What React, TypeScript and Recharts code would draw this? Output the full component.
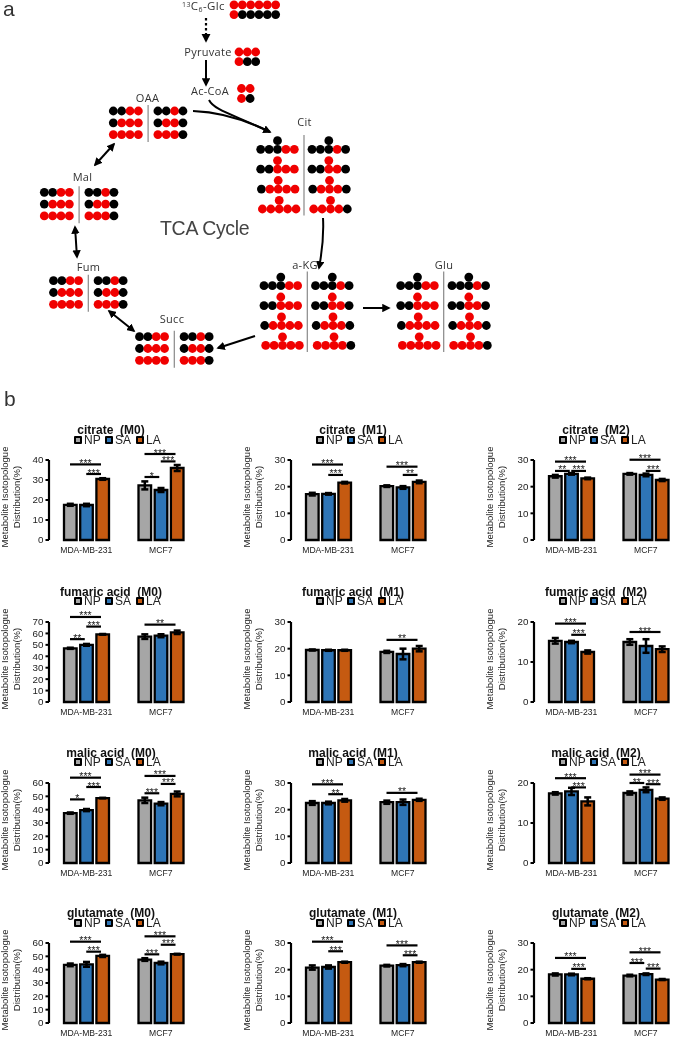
import React from 'react'
import { BarChart, Bar, XAxis, YAxis, ErrorBar, ReferenceLine, Legend } from 'recharts'

const cells = ['MDA-MB-231', 'MCF7']
const groups = ['NP', 'SA', 'LA']
const groupColors = ['#a6a6a6', '#2e75b6', '#c55a11']

const panelTitles = [
  'citrate  (M0)', 'citrate  (M1)', 'citrate  (M2)',
  'fumaric acid  (M0)', 'fumaric acid  (M1)', 'fumaric acid  (M2)',
  'malic acid  (M0)', 'malic acid  (M1)', 'malic acid  (M2)',
  'glutamate  (M0)', 'glutamate  (M1)', 'glutamate  (M2)',
]
const panelMax = [40, 30, 30, 70, 30, 20, 60, 30, 20, 60, 30, 30]

// per panel: [MDA-MB-231, MCF7]
const npValues = [[17.6, 27.3], [17.2, 20.2], [23.9, 24.8], [47, 57.2], [19.5, 18.8], [15.3, 15], [37.4, 47], [22.5, 22.8], [17.4, 17.5], [43.6, 47.6], [20.8, 21.5], [18.2, 17.8]]
const saValues = [[17.5, 25], [17.3, 19.7], [24.8, 24.4], [50, 58], [19.4, 18], [15, 14], [39.7, 44.5], [22.5, 22.8], [17.9, 18.3], [44, 45], [21, 21.7], [18.2, 18.3]]
const laValues = [[30.5, 36], [21.5, 21.8], [23.1, 22.5], [59.2, 61], [19.4, 20], [12.5, 13.2], [48.7, 51.8], [23.5, 23.7], [15.4, 16.1], [50.3, 51.6], [22.8, 22.8], [16.6, 16.3]]
const npErrors = [[0.5, 2], [0.5, 0.3], [0.5, 0.3], [0.5, 2], [0.2, 0.4], [0.7, 0.7], [0.5, 2], [0.7, 0.6], [0.3, 0.4], [1, 1], [0.8, 0.3], [0.4, 0.3]]
const saErrors = [[0.6, 1], [0.3, 0.5], [0.3, 0.5], [0.8, 1.3], [0.2, 2], [0.3, 1.7], [0.8, 1.2], [0.5, 1], [0.9, 0.6], [1.8, 1], [0.6, 0.4], [0.3, 0.3]]
const laErrors = [[0.4, 1.5], [0.3, 0.5], [0.3, 0.4], [0.3, 1.5], [0.2, 1], [0.4, 0.7], [0.2, 1.8], [0.5, 0.4], [1, 0.3], [0.8, 0.3], [0.2, 0.2], [0.2, 0.2]]

// significance bars per panel: [cell, from group, to group, value, stars]
const sigBars: [number, number, number, number, string][][] = [
  [[0, 0, 2, 37.8, '***'], [0, 1, 2, 33, '***'], [1, 0, 2, 43, '***'], [1, 1, 2, 39.3, '***'], [1, 0, 1, 31.5, '*']],
  [[0, 0, 2, 28.3, '***'], [0, 1, 2, 24.4, '***'], [1, 0, 2, 27.5, '***'], [1, 1, 2, 24.4, '**']],
  [[0, 0, 2, 29.4, '***'], [0, 0, 1, 25.9, '**'], [0, 1, 2, 25.9, '***'], [1, 0, 2, 30.1, '***'], [1, 1, 2, 25.9, '***']],
  [[0, 0, 2, 74.4, '***'], [0, 1, 2, 66, '***'], [0, 0, 1, 55, '**'], [1, 0, 2, 67.7, '**']],
  [[1, 0, 2, 23.3, '**']],
  [[0, 0, 2, 19.6, '***'], [0, 1, 2, 16.8, '***'], [1, 0, 2, 17.5, '***']],
  [[0, 0, 2, 64, '***'], [0, 1, 2, 57, '***'], [0, 0, 1, 47.7, '*'], [1, 0, 2, 65.3, '***'], [1, 1, 2, 59.3, '***'], [1, 0, 1, 52.3, '***']],
  [[0, 0, 2, 29.5, '***'], [0, 1, 2, 25.8, '**'], [1, 0, 2, 26.3, '**']],
  [[0, 0, 2, 21.2, '***'], [0, 1, 2, 18.9, '***'], [1, 0, 2, 22.1, '***'], [1, 0, 1, 20, '**'], [1, 1, 2, 19.7, '***']],
  [[0, 0, 2, 61, '***'], [0, 1, 2, 53.5, '***'], [1, 0, 2, 65, '***'], [1, 1, 2, 58.7, '***'], [1, 0, 1, 51.5, '***']],
  [[0, 0, 2, 30.5, '***'], [0, 1, 2, 26.9, '***'], [1, 0, 2, 29.1, '***'], [1, 1, 2, 25.4, '***']],
  [[0, 0, 2, 24.4, '***'], [0, 1, 2, 20.3, '***'], [1, 0, 2, 26.5, '***'], [1, 0, 1, 22.5, '***'], [1, 1, 2, 20.4, '***']],
]

// labelling patterns, K = 12C (black), R = 13C (red)
const oaaLeft = ['KKRR', 'KRRR', 'RRRR']
const oaaRight = ['KKRK', 'KRRK', 'RRRK']
const citLeft = ['KKKKRR', 'RKKRRR', 'RKRRRR', 'RRRRRR']
const citRight = ['KKKKRK', 'RKKRRK', 'RKRRRK', 'RRRRRK']

const FONT = '"Liberation Sans", Arial, sans-serif'
const DIAGRAM_FONT = '"Open Sans", sans-serif'
const COL_X = [49, 291, 534]
const ROW_TOP = [460, 621.5, 782.5, 943]
const PLOT_W = 149
const PLOT_H = 80
const LEGEND_H = 27
const AXIS_W = 35

const RED = '#f00000'
const dotColor = (c: string) => (c === 'R' ? RED : '#000')

function Dots({ x, y, rows, dx = 8.35, dy = 11.8 }: { x: number; y: number; rows: string[]; dx?: number; dy?: number }) {
  return (
    <g>
      {rows.map((row, r) =>
        row.split('').map((c, i) => (
          <circle key={r + '-' + i} cx={x + i * dx} cy={y + r * dy} r={4.4} fill={dotColor(c)} />
        )),
      )}
    </g>
  )
}

function Block({ x, y, sepH = 37 }: { x: number; y: number; sepH?: number }) {
  return (
    <g>
      <Dots x={x} y={y} rows={oaaLeft} />
      <Dots x={x + 44.6} y={y} rows={oaaRight} />
      <line x1={x + 34.8} x2={x + 34.8} y1={y - 6} y2={y - 6 + sepH} stroke="#888" strokeWidth={1.2} />
    </g>
  )
}

function BranchRows({ x, y, rows }: { x: number; y: number; rows: string[] }) {
  // first letter of a row is the carbon branching off above the third one
  const rowGap = 19.9
  const shift = [0, 0, 0.7, 1.7]
  return (
    <g>
      {rows.map((row, r) => (
        <g key={r}>
          <circle cx={x + shift[r] + 2 * 8.4} cy={y + r * rowGap - 8.6} r={4.4} fill={dotColor(row[0])} />
          {row.slice(1).split('').map((c, i) => (
            <circle key={i} cx={x + shift[r] + i * 8.4} cy={y + r * rowGap} r={4.4} fill={dotColor(c)} />
          ))}
        </g>
      ))}
    </g>
  )
}

function TallBlock({ x, y, rightDx, sepDx, sepTop }: { x: number; y: number; rightDx: number; sepDx: number; sepTop: number }) {
  return (
    <g>
      <BranchRows x={x} y={y} rows={citLeft} />
      <BranchRows x={x + rightDx} y={y} rows={citRight} />
      <line x1={x + sepDx} x2={x + sepDx} y1={sepTop} y2={sepTop + 80.5} stroke="#888" strokeWidth={1.2} />
    </g>
  )
}

function DiagramLabel({ x, y, children, anchor = 'middle' }: { x: number; y: number; children: React.ReactNode; anchor?: string }) {
  return (
    <text x={x} y={y} fontSize={11} fill="#333" textAnchor={anchor as 'middle'} fontFamily={DIAGRAM_FONT} letterSpacing={0.3}>
      {children}
    </text>
  )
}

function Diagram() {
  const arrow = { fill: 'none', stroke: '#000', strokeWidth: 2 }
  return (
    <svg width={685} height={420} style={{ position: 'absolute', left: 0, top: 0 }}>
      <defs>
        <marker id="head" viewBox="0 0 10 10" refX={8} refY={5} markerWidth={4.2} markerHeight={4.2} orient="auto-start-reverse">
          <path d="M0 0 L10 5 L0 10 Z" fill="#000" />
        </marker>
      </defs>
      <text x={3} y={16} fontSize={21} fill="#333" fontFamily={FONT}>a</text>
      <text x={4} y={406} fontSize={21} fill="#333" fontFamily={FONT}>b</text>

      <Dots x={234} y={4.8} rows={['RRRRRR', 'RKKKKK']} dx={8.33} dy={9.8} />
      <Dots x={239} y={52} rows={['RRR', 'RKK']} dx={8.33} dy={9.7} />
      <Dots x={241.5} y={88.5} rows={['RR', 'RK']} dx={8.6} dy={10} />

      <text x={182} y={10} fontSize={11.5} letterSpacing={0.4} fill="#333" fontFamily={DIAGRAM_FONT}>
        <tspan fontSize={7} dy={-3}>13</tspan><tspan dy={3}>C</tspan><tspan fontSize={7} dy={2}>6</tspan><tspan dy={-2}>-Glc</tspan>
      </text>
      <DiagramLabel x={208} y={56}>Pyruvate</DiagramLabel>
      <DiagramLabel x={210} y={95}>Ac-CoA</DiagramLabel>
      <DiagramLabel x={147.5} y={102}>OAA</DiagramLabel>
      <DiagramLabel x={304.5} y={126}>Cit</DiagramLabel>
      <DiagramLabel x={82.5} y={181}>Mal</DiagramLabel>
      <DiagramLabel x={88.5} y={271}>Fum</DiagramLabel>
      <DiagramLabel x={172} y={323}>Succ</DiagramLabel>
      <DiagramLabel x={305} y={269}>a-KG</DiagramLabel>
      <DiagramLabel x={444} y={269}>Glu</DiagramLabel>
      <text x={160} y={235} fontSize={19.5} letterSpacing={-0.3} fill="#444" fontFamily={FONT}>TCA Cycle</text>

      <Block x={113.3} y={111} />
      <Block x={44.3} y={192.3} />
      <Block x={53.5} y={280.7} />
      <Block x={139.5} y={336.7} />
      <TallBlock x={260.7} y={149.3} rightDx={51.3} sepDx={43.3} sepTop={135} />
      <TallBlock x={264} y={285.7} rightDx={51.5} sepDx={43.3} sepTop={271.5} />
      <TallBlock x={400.7} y={285.7} rightDx={51.3} sepDx={43} sepTop={271.5} />

      <path d="M206 18 L206 41" {...arrow} strokeWidth={2.2} strokeDasharray="2.5 2.5" markerEnd="url(#head)" />
      <path d="M206 60 L206 85" {...arrow} markerEnd="url(#head)" />
      <path d="M209 100 C214 110 232 114 270 132" {...arrow} markerEnd="url(#head)" />
      <path d="M193 111 C222 112 246 120 270 132" {...arrow} />
      <path d="M114 144 L95 165" {...arrow} markerStart="url(#head)" markerEnd="url(#head)" />
      <path d="M75 227 L77 257" {...arrow} markerStart="url(#head)" markerEnd="url(#head)" />
      <path d="M109 311 L134 331" {...arrow} markerStart="url(#head)" markerEnd="url(#head)" />
      <path d="M255 336 L218 348" {...arrow} markerEnd="url(#head)" />
      <path d="M323 218 C324 236 322 252 319 268" {...arrow} markerEnd="url(#head)" />
      <path d="M363 308 L389 308" {...arrow} markerEnd="url(#head)" />
    </svg>
  )
}

function PanelLegend() {
  return (
    <div style={{ position: 'relative', height: LEGEND_H, fontFamily: FONT, fontSize: 12, color: '#222' }}>
      {groups.map((g, i) => (
        <div key={g} style={{ position: 'absolute', left: AXIS_W + 25 + i * 31, top: 0, display: 'flex', alignItems: 'center', height: 13 }}>
          <span style={{ width: 4, height: 4, border: '2px solid #000', borderRadius: 1, background: groupColors[i], marginRight: 2 }} />
          <span>{g}</span>
        </div>
      ))}
    </div>
  )
}

function Panel({ index }: { index: number }) {
  const row = Math.floor(index / 3)
  const left = COL_X[index % 3] - AXIS_W
  const top = ROW_TOP[row] - LEGEND_H
  const max = panelMax[index]
  const ticks: number[] = []
  for (let t = 0; t <= max; t += 10) ticks.push(t)
  const data = cells.map((name, c) => ({
    name,
    NP: npValues[index][c],
    SA: saValues[index][c],
    LA: laValues[index][c],
    NPerr: npErrors[index][c],
    SAerr: saErrors[index][c],
    LAerr: laErrors[index][c],
  }))
  // the number axis runs 0..1 over the whole plot, half of it per cell
  const barX = (cell: number, g: number) => (cell + 0.5 + (g - 1) * 0.218) / 2
  return (
    <div style={{ position: 'absolute', left, top, width: AXIS_W + PLOT_W + 8, height: LEGEND_H + PLOT_H + 22 }}>
      <div style={{ position: 'absolute', left: AXIS_W, width: 124, top: -9, textAlign: 'center', fontFamily: FONT, fontWeight: 700, fontSize: 12, lineHeight: '13px', color: '#111', whiteSpace: 'pre' }}>
        {panelTitles[index]}
      </div>
      <svg width={30} height={130} style={{ position: 'absolute', left: -6, top: 0, overflow: 'visible' }}>
        <text transform={`translate(0, ${LEGEND_H + 37}) rotate(-90)`} textAnchor="middle" fontFamily={FONT} fontSize={9.5} fill="#222">Metabolite Isotopologue</text>
        <text transform={`translate(11.5, ${LEGEND_H + 37}) rotate(-90)`} textAnchor="middle" fontFamily={FONT} fontSize={9.5} fill="#222">Distribution(%)</text>
      </svg>
      <BarChart
        width={AXIS_W + PLOT_W + 8}
        height={LEGEND_H + PLOT_H + 22}
        data={data}
        barSize={12.6}
        barGap={3.6}
        barCategoryGap={0}
        margin={{ top: 0, right: 8, bottom: 0, left: 0 }}
        style={{ overflow: 'visible' }}
      >
        <Legend verticalAlign="top" align="left" height={LEGEND_H} content={() => <PanelLegend />} />
        <XAxis xAxisId="sig" type="number" domain={[0, 1]} ticks={[0, 0.5, 1]} tick={false} height={0} tickSize={2.5} axisLine={{ stroke: '#000', strokeWidth: 2.2 }} tickLine={{ stroke: '#000', strokeWidth: 1.5 }} />
        <XAxis xAxisId="cat" dataKey="name" height={22} axisLine={false} tickLine={false} interval={0} tickMargin={1} tick={{ fontSize: 8.6, fontFamily: FONT, fill: '#222' }} />
        <YAxis width={AXIS_W} domain={[0, max]} ticks={ticks} interval={0} tickSize={3.5} tickMargin={2} axisLine={{ stroke: '#000', strokeWidth: 2.2 }} tickLine={{ stroke: '#000', strokeWidth: 2 }} tick={{ fontSize: 9.8, fontFamily: FONT, fill: '#222' }} />
        {groups.map((g, i) => (
          <Bar key={g} xAxisId="cat" dataKey={g} fill={groupColors[i]} stroke="#000" strokeWidth={2.3} isAnimationActive={false}>
            <ErrorBar dataKey={g + 'err'} width={3.5} strokeWidth={2.5} stroke="#000" isAnimationActive={false} />
          </Bar>
        ))}
        {sigBars[index].map(([cell, a, b, y, stars], i) => (
          <ReferenceLine
            key={i}
            xAxisId="sig"
            ifOverflow="visible"
            segment={[{ x: barX(cell, a), y }, { x: barX(cell, b) - 0.01, y }]}
            stroke="#000"
            strokeWidth={2.2}
            label={{ value: stars, position: 'top', offset: -2.5, fontSize: 10.5, fontFamily: FONT, fill: '#222' }}
          />
        ))}
      </BarChart>
    </div>
  )
}

export default function App() {
  return (
    <div style={{ position: 'absolute', left: 0, top: 0, width: 685, height: 1038, overflow: 'hidden', background: '#fff', filter: 'blur(0.35px)' }}>
      <Diagram />
      {panelTitles.map((_, i) => (
        <Panel key={i} index={i} />
      ))}
    </div>
  )
}
